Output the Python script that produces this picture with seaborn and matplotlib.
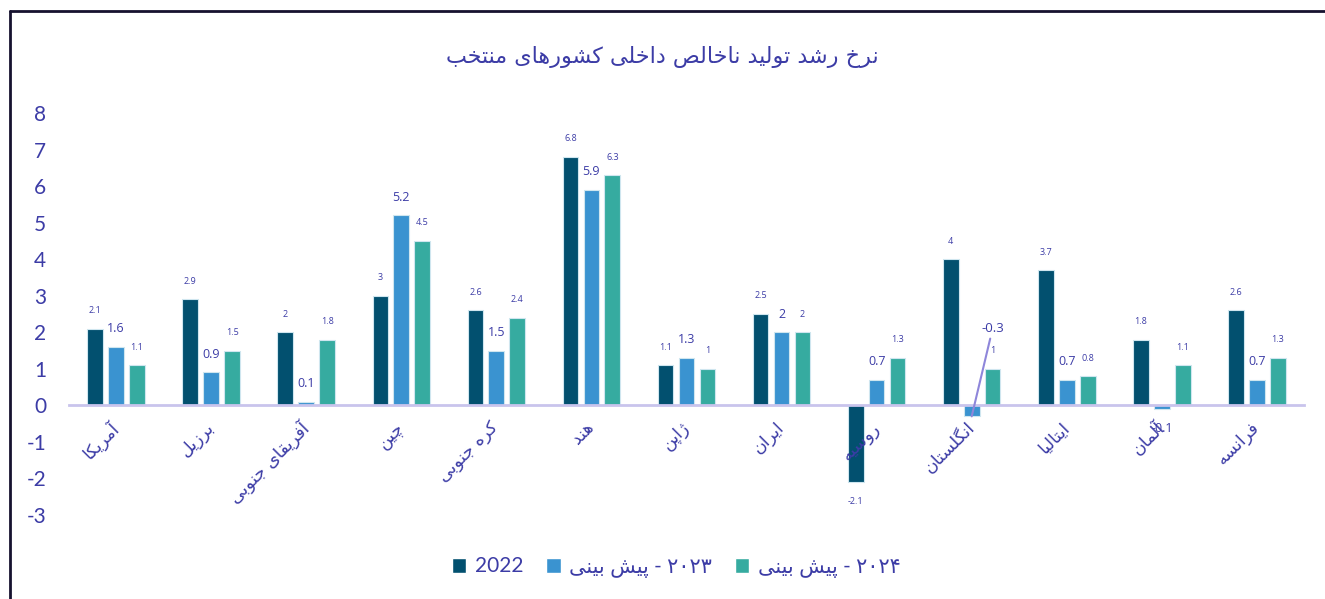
import matplotlib
matplotlib.use("Agg")
import matplotlib.pyplot as plt
from matplotlib.patches import Patch
from matplotlib.lines import Line2D
import seaborn as sns
import pandas as pd

sns.set_style("white")
plt.rcParams['font.family'] = ['Lato', 'DejaVu Sans']
plt.rcParams['axes.unicode_minus'] = False

# data
countries = ['آمریکا', 'برزیل', 'آفریقای جنوبی', 'چین', 'کره جنوبی', 'هند', 'ژاپن',
             'ایران', 'روسیه', 'انگلستان', 'ایتالیا', 'آلمان', 'فرانسه']
gdp_2022 = [2.1, 2.9, 2, 3, 2.6, 6.8, 1.1, 2.5, -2.1, 4, 3.7, 1.8, 2.6]
gdp_2023 = [1.6, 0.9, 0.1, 5.2, 1.5, 5.9, 1.3, 2, 0.7, -0.3, 0.7, -0.1, 0.7]
gdp_2024 = [1.1, 1.5, 1.8, 4.5, 2.4, 6.3, 1, 2, 1.3, 1, 0.8, 1.1, 1.3]
series_keys = ['2022', '2023', '2024']
title = 'نرخ رشد تولید ناخالص داخلی کشورهای منتخب'
forecast = 'پیش بینی'
yticks = list(range(-3, 9))

colors = {'2022': '#02506F', '2023': '#3A93D0', '2024': '#36ABA0'}
text_color = '#3C3CA6'

# minimal persian shaping: (isolated, final, initial, medial)
FORMS = {
    '\u0627': ('\uFE8D', '\uFE8E', None, None),
    '\u0622': ('\uFE81', '\uFE82', None, None),
    '\u062F': ('\uFEA9', '\uFEAA', None, None),
    '\u0631': ('\uFEAD', '\uFEAE', None, None),
    '\u0632': ('\uFEAF', '\uFEB0', None, None),
    '\u0698': ('\uFB8A', '\uFB8B', None, None),
    '\u0648': ('\uFEED', '\uFEEE', None, None),
    '\u0628': ('\uFE8F', '\uFE90', '\uFE91', '\uFE92'),
    '\u067E': ('\uFB56', '\uFB57', '\uFB58', '\uFB59'),
    '\u062A': ('\uFE95', '\uFE96', '\uFE97', '\uFE98'),
    '\u062C': ('\uFE9D', '\uFE9E', '\uFE9F', '\uFEA0'),
    '\u0686': ('\uFB7A', '\uFB7B', '\uFB7C', '\uFB7D'),
    '\u062E': ('\uFEA5', '\uFEA6', '\uFEA7', '\uFEA8'),
    '\u0633': ('\uFEB1', '\uFEB2', '\uFEB3', '\uFEB4'),
    '\u0634': ('\uFEB5', '\uFEB6', '\uFEB7', '\uFEB8'),
    '\u0635': ('\uFEB9', '\uFEBA', '\uFEBB', '\uFEBC'),
    '\u0641': ('\uFED1', '\uFED2', '\uFED3', '\uFED4'),
    '\u0642': ('\uFED5', '\uFED6', '\uFED7', '\uFED8'),
    '\u06A9': ('\uFB8E', '\uFB8F', '\uFB90', '\uFB91'),
    '\u06AF': ('\uFB92', '\uFB93', '\uFB94', '\uFB95'),
    '\u0644': ('\uFEDD', '\uFEDE', '\uFEDF', '\uFEE0'),
    '\u0645': ('\uFEE1', '\uFEE2', '\uFEE3', '\uFEE4'),
    '\u0646': ('\uFEE5', '\uFEE6', '\uFEE7', '\uFEE8'),
    '\u0647': ('\uFEE9', '\uFEEA', '\uFEEB', '\uFEEC'),
    '\u06CC': ('\uFBFC', '\uFBFD', '\uFBFE', '\uFBFF'),
}


def fa(text):
    out = []
    for i, c in enumerate(text):
        if c not in FORMS:
            out.append(c)
            continue
        prev = text[i - 1] if i > 0 else None
        nxt = text[i + 1] if i + 1 < len(text) else None
        jp = prev in FORMS and FORMS[prev][2] is not None
        jn = nxt in FORMS and FORMS[c][2] is not None
        iso, fin, ini, med = FORMS[c]
        if jp and jn:
            out.append(med)
        elif jp:
            out.append(fin)
        elif jn:
            out.append(ini)
        else:
            out.append(iso)
    return ''.join(out)[::-1]


df = pd.DataFrame({
    'country': countries * 3,
    'year': [k for k in series_keys for _ in countries],
    'value': gdp_2022 + gdp_2023 + gdp_2024,
})

fig = plt.figure(figsize=(13.25, 5.99), dpi=100)
ax = fig.add_axes([0.0517, 0.1402, 0.9328, 0.6711])

sns.barplot(data=df, x='country', y='value', hue='year', order=countries,
            hue_order=series_keys, palette=colors, width=0.66, gap=0.25,
            saturation=1, edgecolor='#cfe6ef', linewidth=0.8, legend=False, ax=ax)

ax.set_ylim(-3, 8)
ax.set_xlim(-0.5, len(countries) - 0.5)
ax.set_xlabel('')
ax.set_ylabel('')
# spine position first: it resets the ticks
for s in ['top', 'right', 'left']:
    ax.spines[s].set_visible(False)
ax.spines['bottom'].set_position(('data', 0))
ax.spines['bottom'].set_color('#C9C4EC')
ax.spines['bottom'].set_linewidth(2)
ax.grid(False)
ax.set_axisbelow(False)

ax.tick_params(axis='y', length=0, pad=16)
ax.tick_params(axis='x', length=0, pad=14)
ax.set_yticks(yticks)
ax.set_yticklabels([str(t) for t in yticks], fontsize=15, color=text_color)
ax.set_xticks(range(len(countries)))
ax.set_xticklabels([fa(c) for c in countries], rotation=45, ha='right',
                   va='center', rotation_mode='anchor', fontsize=12.5,
                   color=text_color, family='DejaVu Sans')

# value labels
label_sizes = [6.5, 9, 6.5]
for container, vals, size in zip(ax.containers, [gdp_2022, gdp_2023, gdp_2024], label_sizes):
    for bar, v in zip(container, vals):
        x = bar.get_x() + bar.get_width() / 2
        txt = f'{v:g}'
        kw = dict(textcoords='offset points', ha='center', va='center',
                  color=text_color, family='Open Sans', annotation_clip=False)
        if v == -0.3:
            ax.annotate(txt, (x, v), xytext=(15, 63), fontsize=9.5,
                        arrowprops=dict(arrowstyle='-', color='#8E86DA', lw=1.5,
                                        shrinkA=0, shrinkB=0), **kw)
        elif v >= 0:
            ax.annotate(txt, (x, v), xytext=(0, 13), fontsize=size, **kw)
        else:
            ax.annotate(txt, (x, v), xytext=(0, -14), fontsize=size, **kw)

fig.text(0.5, 1 - 57 / 599, fa(title), ha='center', va='center', fontsize=16,
         color=text_color, family='DejaVu Sans')

handles = [Patch(facecolor=colors[k]) for k in series_keys]
labels = ['2022', fa(forecast) + ' - ' + '۲۰۲۳', fa(forecast) + ' - ' + '۲۰۲۴']
fig.legend(handles, labels, loc='center', bbox_to_anchor=(676 / 1325, 1 - 567 / 599),
           ncol=3, frameon=False, fontsize=15, handlelength=0.7, handleheight=0.7,
           columnspacing=1.1, handletextpad=0.4, labelcolor=text_color)

# frame on the left and top
fig.add_artist(Line2D([9.5 / 1325, 9.5 / 1325], [0, 1 - 11 / 599],
                      transform=fig.transFigure, color='#16122F', lw=2))
fig.add_artist(Line2D([9.5 / 1325, 1], [1 - 11 / 599, 1 - 11 / 599],
                      transform=fig.transFigure, color='#16122F', lw=2))

fig.savefig('out.png', dpi=100)
